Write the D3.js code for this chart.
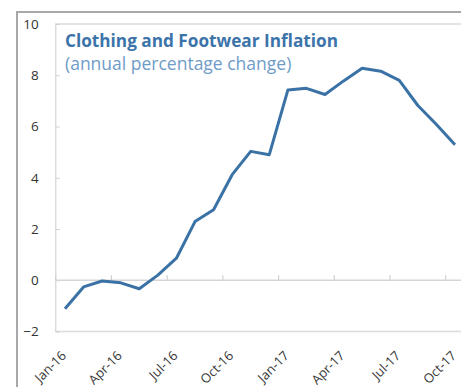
<!DOCTYPE html>
<html>
<head>
<meta charset="utf-8">
<script src="https://cdn.jsdelivr.net/npm/d3@7"></script>
<style>
    body { margin: 0; background: #fff; }
    svg { display: block; }
    text { font-family: "Open Sans", sans-serif; }
</style>
</head>
<body>
<div id="chart"></div>
<script>
// data
const months = ["Jan-16", "Feb-16", "Mar-16", "Apr-16", "May-16", "Jun-16",
    "Jul-16", "Aug-16", "Sep-16", "Oct-16", "Nov-16", "Dec-16",
    "Jan-17", "Feb-17", "Mar-17", "Apr-17", "May-17", "Jun-17",
    "Jul-17", "Aug-17", "Sep-17", "Oct-17"];
const inflation = [-1.11, -0.26, -0.03, -0.1, -0.33, 0.2,
    0.86, 2.29, 2.75, 4.12, 5.03, 4.9,
    7.42, 7.49, 7.25, 7.78, 8.27, 8.16,
    7.8, 6.82, 6.08, 5.29];
const yTicks = [-2, 0, 2, 4, 6, 8, 10];
const xLabels = ["Jan-16", "Apr-16", "Jul-16", "Oct-16", "Jan-17", "Apr-17", "Jul-17", "Oct-17"];

const width = 461, height = 387;
const plot = { left: 55.7, right: 464.3, top: 24, bottom: 331.5 };

const svg = d3.select("#chart").append("svg")
    .attr("width", width)
    .attr("height", height);

// outer frame
svg.append("path")
    .attr("d", "M17," + height + "V12H" + width)
    .attr("fill", "none")
    .attr("stroke", "#a8a8a8")
    .attr("stroke-width", 2);

// scales
const x = d3.scalePoint()
    .domain(months)
    .range([plot.left, plot.right])
    .padding(0.5);
const step = x.step();

const y = d3.scaleLinear()
    .domain([-2, 10])
    .range([plot.bottom, plot.top]);

// plot area border (top, left, bottom)
svg.append("path")
    .attr("d", "M" + width + "," + plot.top + "H" + plot.left + "V" + plot.bottom + "H" + width)
    .attr("fill", "none")
    .attr("stroke", "#dcdcdc")
    .attr("stroke-width", 1.5);

// y axis labels + small ticks
const yAxis = d3.axisLeft(y)
    .tickValues(yTicks)
    .tickSize(-4)
    .tickPadding(17);

svg.append("g")
    .attr("class", "y-axis")
    .attr("transform", "translate(" + plot.left + ",0)")
    .call(yAxis)
    .call(g => g.select(".domain").remove())
    .call(g => g.selectAll(".tick line").attr("stroke", "#d0d0d0"))
    .call(g => g.selectAll(".tick text")
        .attr("fill", "#333")
        .attr("font-size", 13.5)
        .attr("font-family", "'Open Sans', sans-serif"));

// zero line
svg.append("line")
    .attr("x1", plot.left)
    .attr("x2", width)
    .attr("y1", y(0))
    .attr("y2", y(0))
    .attr("stroke", "#d6d6d6")
    .attr("stroke-width", 1.5);

// tick marks on the zero line, every 3 months at category boundaries
const boundaries = months.filter((d, i) => i % 3 === 0).map(d => x(d) - step / 2);
svg.selectAll(".x-tick")
    .data(boundaries)
    .enter()
    .append("line")
    .attr("class", "x-tick")
    .attr("x1", d => d)
    .attr("x2", d => d)
    .attr("y1", y(0))
    .attr("y2", y(0) - 5)
    .attr("stroke", "#d0d0d0")
    .attr("stroke-width", 1.2);

// x labels (rotated)
svg.selectAll(".x-label")
    .data(xLabels)
    .enter()
    .append("text")
    .attr("class", "x-label")
    .attr("transform", d => "translate(" + (x(d) + 2) + "," + (plot.bottom + 25) + ") rotate(-45)")
    .attr("text-anchor", "end")
    .attr("fill", "#383838")
    .attr("font-size", 13)
    .text(d => d);

// series line
const line = d3.line()
    .x((d, i) => x(months[i]))
    .y(d => y(d));

svg.append("path")
    .datum(inflation)
    .attr("fill", "none")
    .attr("stroke", "#3a72a6")
    .attr("stroke-width", 3)
    .attr("stroke-linejoin", "round")
    .attr("d", line);

// titles
svg.append("text")
    .attr("x", 65)
    .attr("y", 46.5)
    .attr("fill", "#3c74aa")
    .attr("font-size", 17.2)
    .attr("font-weight", "bold")
    .text("Clothing and Footwear Inflation");

svg.append("text")
    .attr("x", 65)
    .attr("y", 70)
    .attr("fill", "#6e9bc7")
    .attr("font-size", 17.5)
    .text("(annual percentage change)");
</script>
</body>
</html>
